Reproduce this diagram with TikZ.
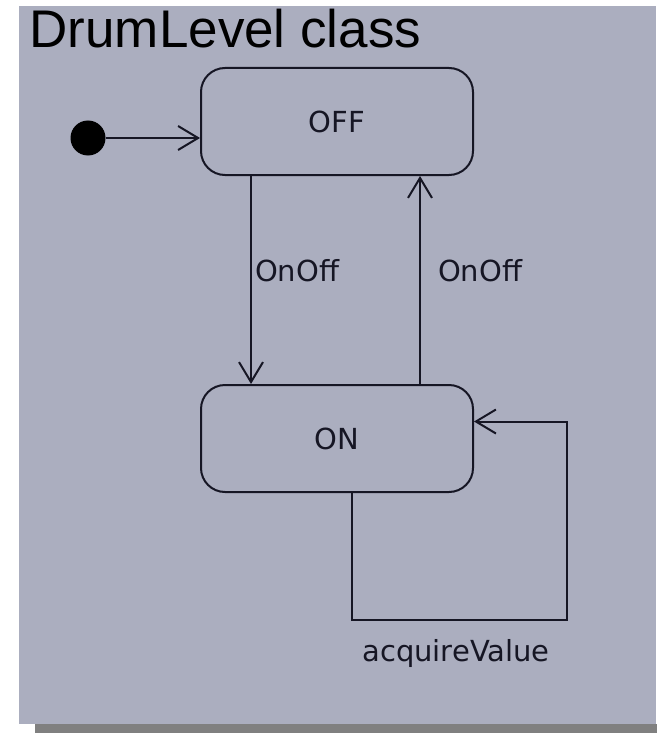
\documentclass[tikz,border=0pt]{standalone}
\usepackage{fontspec}
\setmainfont{Liberation Sans}
\newfontfamily\labelfont{DejaVu Sans}
\usepackage{tikz}
\usetikzlibrary{arrows.meta, positioning}

\definecolor{panelgray}{RGB}{171,174,191}
\definecolor{shadowgray}{RGB}{128,128,128}
\definecolor{inkdark}{RGB}{22,22,36}

\begin{document}
\begin{tikzpicture}[
    x=1pt, y=-1pt,
    every node/.style={font=\labelfont\fontsize{29}{34}\selectfont, text=inkdark},
    statebox/.style={rectangle, draw=inkdark, line width=2pt, rounded corners=24pt, minimum width=272pt, minimum height=107pt},
    initdot/.style={circle, fill=black, minimum size=35pt, inner sep=0pt},
    arrow/.style={-{Straight Barb[length=20pt, width=24pt]}, line width=2pt, inkdark}
]

% Panel and shadow
\fill[white] (0,0) rectangle (657,733);
\useasboundingbox (0,0) rectangle (657,733);
\fill[shadowgray] (35,724) rectangle (657,733);
\fill[panelgray] (19,6) rectangle (656,724);

\node[anchor=base west, font=\fontsize{53}{60}\selectfont, text=black] (title) at (26,48) {DrumLevel class};

\node[statebox] (off) at (337,121.5) {OFF};
\node[statebox, below=208pt of off] (on) {ON};
\node[initdot] (init) at (88,138) {};
\coordinate (loopcorner) at (567,620);

\draw[arrow] (init) -- (init -| off.west);
\draw[arrow] ([xshift=-86pt]off.south) -- node[pos=0.457, anchor=west, inner sep=3pt] (lbldown) {OnOff} ([xshift=-86pt]on.north);
\draw[arrow] ([xshift=83pt]on.north) -- node[pos=0.543, anchor=west, inner sep=0pt, xshift=17pt] (lblup) {OnOff} ([xshift=83pt]off.south);

% Self transition
\draw[arrow] ([xshift=15pt]on.south) |- (loopcorner) |- ([yshift=17pt]on.east);
\node (lblloop) at (456,653) {acquireValue};

\end{tikzpicture}
\end{document}
